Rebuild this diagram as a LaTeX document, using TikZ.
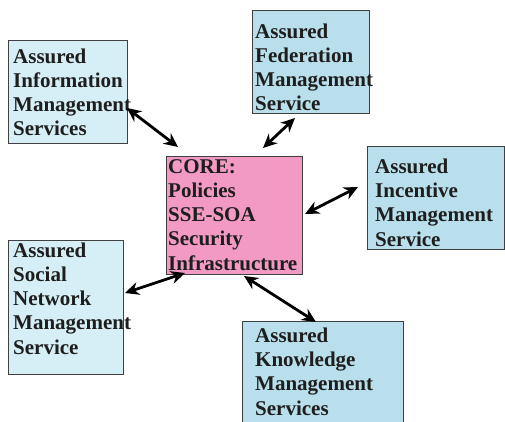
\documentclass[tikz,border=0pt]{standalone}
\usepackage{fontspec}
\setmainfont{Liberation Serif}
\usetikzlibrary{arrows.meta}
\definecolor{paleblue}{HTML}{D6EEF5}
\definecolor{midblue}{HTML}{B8DFEB}
\definecolor{corepink}{HTML}{F29AC4}
\definecolor{ink}{HTML}{1E1E1E}
\tikzset{
  box/.style={draw=ink!85, line width=0.9pt, inner sep=0pt},
  lbl/.style={anchor=base west, inner sep=0pt, align=left, text=ink,
    font=\fontsize{21}{24.2}\selectfont\bfseries},
  link/.style={line width=2.8pt, {Stealth[length=14pt,width=13pt]}-{Stealth[length=14pt,width=13pt]}}
}
\begin{document}
\begin{tikzpicture}[x=1pt,y=-1pt]
\useasboundingbox (0,0) rectangle (505,422);
\begin{scope}
\clip (0,0) rectangle (505,422);
\node[box, fill=paleblue, minimum width=119pt, minimum height=103pt] (info) at (67.5,91.5) {};
\node[box, fill=midblue, minimum width=117pt, minimum height=103pt] (fed) at (310.5,61.5) {};
\node[box, fill=corepink, minimum width=136pt, minimum height=118pt] (core) at (234,215) {};
\node[box, fill=midblue, minimum width=137pt, minimum height=103pt] (inc) at (435.5,197.5) {};
\node[box, fill=paleblue, minimum width=115pt, minimum height=134pt] (soc) at (65.5,307) {};
\node[box, fill=midblue, minimum width=161pt, minimum height=110pt] (know) at (322.5,376) {};
\end{scope}

\node[lbl] (infot) at (13,136) {Assured\\Information\\Management\\Services};
\node[lbl] (fedt) at (255,111) {Assured\\Federation\\Management\\Service};
\node[lbl] (coret) at (168,270) {CORE:\\Policies\\SSE-SOA\\Security\\Infrastructure};
\node[lbl] (inct) at (375,246) {Assured\\Incentive\\Management\\Service};
\node[lbl] (soct) at (13,354) {Assured\\Social\\Network\\Management\\Service};
\node[lbl] (knowt) at (255,415) {Assured\\Knowledge\\Management\\Services};

\coordinate (a1) at (127,108); \coordinate (b1) at (178,147);
\coordinate (a2) at (295,118); \coordinate (b2) at (263,148);
\coordinate (a3) at (358,187); \coordinate (b3) at (305,214);
\coordinate (a4) at (125,293); \coordinate (b4) at (185,273);
\coordinate (a5) at (244,276); \coordinate (b5) at (316,322);
\draw[link] (a1) -- (b1);
\draw[link] (a2) -- (b2);
\draw[link] (a3) -- (b3);
\draw[link] (a4) -- (b4);
\draw[link] (a5) -- (b5);
\end{tikzpicture}
\end{document}
